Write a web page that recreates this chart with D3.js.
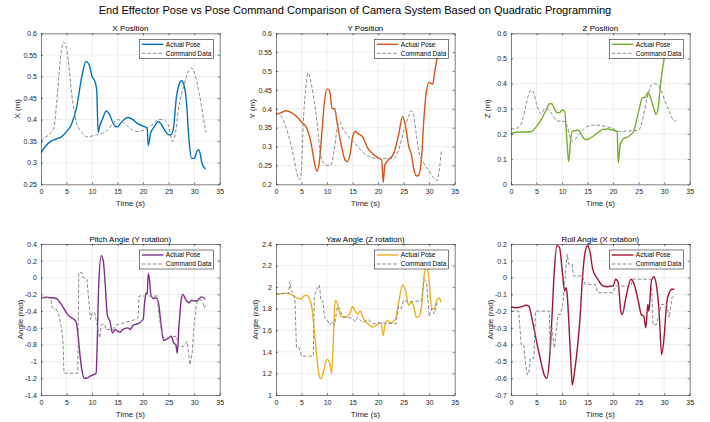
<!DOCTYPE html>
<html><head><meta charset="utf-8">
<script src="https://cdn.jsdelivr.net/npm/d3@7"></script>
<style>
html,body{margin:0;padding:0;background:#fff;}
svg{display:block;font-family:"Liberation Sans",Arial,Helvetica,sans-serif;}
</style></head>
<body>
<script>
// ---------- DATA ----------
const xTicks = [0,5,10,15,20,25,30,35];
const mainTitle = "End Effector Pose vs Pose Command Comparison of Camera System Based on Quadratic Programming";
const legendLabels = ["Actual Pose","Command Data"];

const xPosActual = [[0,0.323],[1,0.34],[2,0.35],[3,0.355],[4,0.36],[5,0.372],[6,0.39],[7,0.43],[8,0.5],[8.8,0.535],[9.5,0.525],[10,0.5],[10.5,0.49],[10.9,0.47],[11.2,0.37],[11.5,0.385],[12,0.4],[12.8,0.42],[13.5,0.41],[14,0.395],[14.5,0.385],[15,0.383],[15.5,0.39],[16,0.397],[17,0.405],[18,0.4],[19,0.39],[20,0.385],[20.8,0.38],[21,0.34],[21.5,0.37],[22,0.38],[23,0.395],[23.5,0.39],[24,0.38],[25,0.365],[25.5,0.365],[26,0.385],[26.5,0.45],[27,0.48],[27.5,0.49],[28,0.48],[28.5,0.44],[29,0.35],[29.5,0.31],[30,0.31],[30.5,0.325],[30.8,0.33],[31.2,0.32],[31.5,0.3],[32.2,0.285]];
const xPosCommand = [[0,0.35],[1,0.36],[2,0.37],[2.5,0.38],[3,0.43],[3.5,0.5],[4,0.56],[4.4,0.58],[5,0.565],[5.5,0.52],[6,0.46],[6.5,0.42],[7,0.39],[8,0.37],[9,0.36],[10,0.362],[11,0.365],[12,0.368],[13,0.375],[14,0.39],[15,0.4],[16,0.395],[17,0.385],[18,0.375],[19,0.372],[20,0.375],[21,0.382],[22,0.39],[23,0.4],[24,0.4],[25,0.385],[25.7,0.35],[26.2,0.36],[27,0.43],[28,0.48],[29,0.515],[29.5,0.52],[30,0.51],[31,0.46],[32,0.39],[32.3,0.37]];

const yPosActual = [[0,0.385],[1,0.39],[2,0.395],[3,0.39],[4,0.38],[5,0.365],[6,0.35],[7,0.3],[7.5,0.26],[8,0.235],[8.5,0.26],[9,0.34],[9.5,0.42],[10,0.452],[10.5,0.448],[11,0.4],[11.5,0.4],[12,0.36],[13,0.29],[13.5,0.265],[14,0.26],[14.5,0.28],[15,0.325],[15.5,0.34],[16,0.335],[17,0.325],[18,0.295],[19,0.28],[20,0.27],[20.7,0.265],[21,0.205],[21.3,0.25],[22,0.265],[23,0.28],[24,0.33],[24.8,0.38],[25.3,0.36],[26,0.3],[26.5,0.28],[27,0.24],[27.5,0.222],[28,0.225],[28.5,0.27],[29,0.38],[29.5,0.45],[30,0.47],[30.7,0.465],[31,0.49],[31.5,0.53],[32,0.56],[32.3,0.575]];
const yPosCommand = [[0,0.39],[1,0.38],[2,0.35],[3,0.3],[3.5,0.27],[4,0.235],[4.6,0.212],[5,0.24],[5.3,0.35],[5.8,0.45],[6.3,0.495],[7,0.46],[7.5,0.42],[8,0.37],[8.5,0.3],[9,0.265],[10,0.25],[10.7,0.25],[11.5,0.3],[12,0.35],[12.5,0.365],[13,0.35],[14,0.33],[15,0.315],[16,0.3],[17,0.285],[18,0.275],[19,0.27],[20,0.268],[21,0.268],[22,0.268],[23,0.268],[24,0.29],[25,0.34],[26,0.38],[26.5,0.395],[27,0.38],[27.5,0.33],[28,0.285],[29,0.255],[30,0.235],[31,0.215],[31.6,0.21],[32,0.24],[32.4,0.29]];

const zPosActual = [[0,0.2],[1,0.207],[2,0.208],[3,0.208],[4,0.21],[5,0.23],[6,0.26],[7,0.3],[7.5,0.32],[8,0.32],[8.5,0.3],[9,0.285],[9.5,0.285],[10,0.295],[10.5,0.29],[11,0.16],[11.3,0.09],[11.7,0.18],[12,0.21],[13,0.215],[13.5,0.21],[14,0.19],[14.5,0.178],[15,0.178],[16,0.19],[17,0.205],[18,0.218],[19,0.22],[20,0.215],[20.8,0.21],[21,0.085],[21.4,0.16],[22,0.18],[23,0.19],[24,0.21],[25,0.29],[25.8,0.345],[26.3,0.345],[26.8,0.365],[27.3,0.345],[28,0.3],[28.4,0.278],[28.8,0.3],[29.3,0.4],[30,0.5],[30.5,0.56]];
const zPosCommand = [[0,0.22],[1,0.222],[2,0.24],[3,0.32],[3.5,0.36],[4,0.375],[4.5,0.36],[5,0.32],[5.5,0.29],[6,0.28],[6.5,0.3],[7,0.3],[8,0.28],[9,0.252],[10,0.25],[10.5,0.25],[11,0.23],[11.5,0.19],[12,0.17],[13,0.19],[14,0.215],[15,0.23],[16,0.235],[17,0.235],[18,0.232],[19,0.228],[20,0.222],[21,0.21],[22,0.21],[23,0.212],[24,0.213],[25,0.215],[25.8,0.26],[26.5,0.33],[27,0.37],[27.5,0.395],[28,0.4],[28.5,0.398],[29,0.39],[29.5,0.37],[30,0.34],[31,0.29],[32,0.25],[32.4,0.255]];

const pitchActual = [[0,-0.24],[1,-0.235],[2,-0.24],[3,-0.25],[3.5,-0.28],[4,-0.32],[5,-0.42],[5.5,-0.46],[6,-0.48],[6.8,-0.52],[7.2,-0.65],[7.6,-0.9],[8,-1.1],[8.5,-1.2],[9,-1.2],[9.5,-1.18],[10,-1.165],[10.8,-1.14],[11,-0.8],[11.3,-0.1],[11.8,0.26],[12.2,0.2],[12.6,-0.1],[13,-0.45],[13.5,-0.52],[14,-0.66],[14.5,-0.62],[15,-0.64],[15.5,-0.65],[16,-0.62],[17,-0.6],[17.5,-0.62],[18,-0.57],[19,-0.55],[20,-0.5],[20.3,-0.3],[20.6,-0.18],[20.8,-0.2],[21,0.05],[21.3,-0.05],[21.5,-0.2],[22,-0.25],[22.5,-0.24],[23,-0.3],[23.5,-0.55],[24,-0.75],[24.5,-0.74],[25,-0.72],[25.5,-0.7],[26,-0.78],[26.4,-0.8],[26.7,-0.9],[27,-0.6],[27.5,-0.25],[27.8,-0.2],[28.3,-0.26],[29,-0.3],[29.5,-0.27],[30,-0.28],[30.5,-0.28],[31,-0.25],[31.5,-0.23],[32.2,-0.26]];
const pitchCommand = [[0,-0.24],[1.5,-0.24],[2,-0.28],[2.2,-0.36],[3,-0.38],[3.5,-0.45],[4,-0.6],[4.3,-0.75],[4.5,-1.14],[7.2,-1.14],[7.4,0.06],[8,0.06],[8.2,0],[9,-0.02],[9.4,-0.3],[9.7,-0.5],[10,-0.42],[10.5,-0.42],[11.5,-0.72],[11.8,-0.56],[12.5,-0.56],[12.7,-0.62],[14,-0.62],[14.5,-0.58],[15,-0.56],[18.5,-0.5],[19,-0.48],[19.2,-0.22],[22.8,-0.22],[23,-0.4],[23.5,-0.6],[24,-0.72],[26.5,-0.7],[27,-0.82],[28,-0.82],[28.6,-0.76],[29,-0.95],[29.2,-1.04],[29.6,-0.9],[30,-0.55],[30.5,-0.3],[31,-0.26],[31.5,-0.27],[32,-0.36],[32.3,-0.33]];

const yawActual = [[0,1.93],[1,1.94],[2,1.945],[3,1.93],[4,1.9],[5,1.89],[5.5,1.92],[6,1.925],[6.5,1.9],[7,1.82],[7.5,1.6],[8,1.35],[8.5,1.17],[8.8,1.15],[9.3,1.22],[10,1.33],[10.5,1.3],[10.9,1.2],[11.3,1.6],[11.6,1.88],[12,1.85],[12.5,1.75],[13,1.72],[13.5,1.72],[14,1.73],[14.5,1.76],[15,1.82],[15.5,1.78],[16,1.75],[16.5,1.78],[17,1.72],[18,1.66],[19,1.63],[20,1.66],[20.6,1.67],[21,1.55],[21.3,1.64],[21.8,1.69],[22.5,1.67],[23,1.68],[23.5,1.72],[24,1.85],[24.8,2.02],[25.3,1.98],[26,1.83],[26.5,1.86],[27,1.82],[27.5,1.72],[28,1.73],[28.5,1.82],[29,2.1],[29.5,2.2],[30,2.05],[30.5,1.8],[31,1.8],[31.5,1.88],[32,1.9],[32.3,1.86]];
const yawCommand = [[0,1.94],[2.5,1.94],[2.7,2.05],[3,1.97],[3.3,1.95],[3.7,1.9],[4,1.44],[4.5,1.44],[5,1.36],[7.3,1.36],[7.5,1.92],[8,1.98],[8.5,2.02],[8.8,1.87],[9.2,1.87],[9.5,1.72],[10,1.7],[10.5,1.65],[11,1.68],[11.5,1.65],[12,1.82],[12.5,1.8],[13,1.73],[14,1.72],[15,1.71],[15.5,1.68],[16,1.72],[17,1.67],[18,1.7],[19,1.66],[20,1.67],[23.5,1.66],[24,1.82],[24.5,1.8],[25,1.88],[26,1.86],[27,1.87],[28.5,1.87],[29,2.07],[29.5,2.05],[30,1.73],[30.5,1.8],[31,1.75],[31.5,1.85],[32,1.85]];

const rollActual = [[0,-0.175],[1,-0.18],[2,-0.175],[3,-0.165],[3.5,-0.17],[4,-0.23],[5,-0.38],[6,-0.52],[6.5,-0.58],[7,-0.6],[7.5,-0.5],[8,-0.25],[8.5,0.05],[9,0.19],[9.5,0.18],[10,0.05],[10.5,-0.08],[10.8,-0.06],[11,-0.1],[11.3,-0.25],[11.8,-0.55],[12,-0.64],[12.5,-0.55],[13,-0.42],[13.5,-0.25],[14,0],[14.5,0.15],[15,0.19],[15.5,0.15],[16,0.05],[17,-0.01],[18,-0.05],[19,-0.055],[19.5,-0.05],[20,-0.05],[20.5,-0.01],[21,-0.03],[21.5,-0.2],[21.8,-0.22],[22.5,-0.12],[23.5,-0.01],[24,-0.03],[25,-0.15],[25.5,-0.22],[26,-0.23],[26.4,-0.3],[26.8,-0.16],[27,-0.2],[27.5,-0.02],[28,0.005],[28.5,-0.05],[29,-0.2],[29.5,-0.46],[30,-0.35],[30.5,-0.15],[31,-0.09],[31.5,-0.07],[32,-0.07]];
const rollCommand = [[0,-0.2],[1.5,-0.2],[2,-0.4],[2.5,-0.4],[2.8,-0.5],[3.2,-0.58],[3.5,-0.57],[3.8,-0.48],[4.5,-0.48],[4.8,-0.2],[7.5,-0.2],[7.7,-0.46],[8,-0.3],[8.5,-0.42],[9.2,-0.22],[9.7,-0.22],[10.2,-0.15],[10.6,0],[11,0.14],[11.3,0.08],[12,0.08],[12.2,0.01],[14,0.01],[14.5,-0.04],[16.5,-0.04],[17,-0.09],[20,-0.09],[20.5,-0.05],[23.5,-0.05],[23.8,-0.01],[27.5,-0.01],[27.8,-0.28],[28.5,-0.28],[28.8,-0.24],[29.5,-0.16],[30.5,-0.16],[31,-0.24],[31.5,-0.12],[32,-0.11]];

const panelTitles = ["X Position","Y Position","Z Position","Pitch Angle (Y rotation)","Yaw Angle (Z rotation)","Roll Angle (X rotation)"];
const panelYLabels = ["X (m)","Y (m)","Z (m)","Angle (rad)","Angle (rad)","Angle (rad)"];
const panelYTicks = [
  [0.25,0.3,0.35,0.4,0.45,0.5,0.55,0.6],
  [0.2,0.25,0.3,0.35,0.4,0.45,0.5,0.55,0.6],
  [0,0.1,0.2,0.3,0.4,0.5,0.6],
  [-1.4,-1.2,-1,-0.8,-0.6,-0.4,-0.2,0,0.2,0.4],
  [1,1.2,1.4,1.6,1.8,2,2.2,2.4],
  [-0.7,-0.6,-0.5,-0.4,-0.3,-0.2,-0.1,0,0.1,0.2]
];
const panelColors = ["#0072BD","#D95319","#77AC30","#7E2F8E","#EDB120","#A2142F"];

// ---------- LAYOUT ----------
const W = 710, H = 422;
const colLeft = [41, 276, 511];
const rowTop = [33.3, 244];
const pw = 178.7, ph = 151;
const actualSeries = [xPosActual,yPosActual,zPosActual,pitchActual,yawActual,rollActual];
const commandSeries = [xPosCommand,yPosCommand,zPosCommand,pitchCommand,yawCommand,rollCommand];
const axisColor = "#262626";

const svg = d3.select("body").append("svg").attr("width",W).attr("height",H);
svg.append("text").attr("x",355).attr("y",14).attr("text-anchor","middle")
  .attr("font-size",11.05).attr("fill","#000").text(mainTitle);

const fmt = v => String(+v.toFixed(2));

for (let i=0;i<6;i++){
  const col = i%3, row = Math.floor(i/3);
  const x0 = colLeft[col], y0 = rowTop[row];
  const yt = panelYTicks[i];
  const xs = d3.scaleLinear().domain([0,35]).range([0,pw]);
  const ys = d3.scaleLinear().domain([yt[0], yt[yt.length-1]]).range([ph,0]);
  const g = svg.append("g").attr("transform",`translate(${x0},${y0})`);
  const cid = "clip"+i;
  g.append("clipPath").attr("id",cid).append("rect").attr("width",pw).attr("height",ph);

  // grid
  g.append("g").selectAll("line").data(xTicks.slice(1,-1)).join("line")
    .attr("x1",d=>xs(d)).attr("x2",d=>xs(d)).attr("y1",0).attr("y2",ph)
    .attr("stroke","#e2e2e2").attr("stroke-width",0.6);
  g.append("g").selectAll("line").data(yt.slice(1,-1)).join("line")
    .attr("y1",d=>ys(d)).attr("y2",d=>ys(d)).attr("x1",0).attr("x2",pw)
    .attr("stroke","#e2e2e2").attr("stroke-width",0.6);

  // lines
  const line = d3.line().x(d=>xs(d[0])).y(d=>ys(d[1])).curve(d3.curveMonotoneX);
  const lineCmd = d3.line().x(d=>xs(d[0])).y(d=>ys(d[1])).curve(i<3 ? d3.curveMonotoneX : d3.curveLinear);
  const lg = g.append("g").attr("clip-path",`url(#${cid})`);
  lg.append("path").attr("d",line(actualSeries[i])).attr("fill","none")
    .attr("stroke",panelColors[i]).attr("stroke-width",1.4).attr("stroke-linejoin","round");
  lg.append("path").attr("d",lineCmd(commandSeries[i])).attr("fill","none")
    .attr("stroke","#8a8a8a").attr("stroke-width",1).attr("stroke-dasharray","3.5,2");

  // axes (MATLAB style inner ticks, box)
  const tl = 2;
  const ax = g.append("g").attr("transform",`translate(0,${ph})`)
    .call(d3.axisBottom(xs).tickValues(xTicks).tickSizeInner(-tl).tickSizeOuter(0).tickPadding(4).tickFormat(d3.format("d")));
  const ay = g.append("g")
    .call(d3.axisLeft(ys).tickValues(yt).tickSizeInner(-tl).tickSizeOuter(0).tickPadding(4).tickFormat(fmt));
  const axT = g.append("g").call(d3.axisTop(xs).tickValues(xTicks).tickSizeInner(-tl).tickSizeOuter(0).tickFormat(""));
  const ayR = g.append("g").attr("transform",`translate(${pw},0)`).call(d3.axisRight(ys).tickValues(yt).tickSizeInner(-tl).tickSizeOuter(0).tickFormat(""));
  [ax,ay,axT,ayR].forEach(a=>{
    a.select(".domain").attr("stroke",axisColor).attr("stroke-width",0.6);
    a.selectAll(".tick line").attr("stroke",axisColor).attr("stroke-width",0.6);
    a.selectAll("text").attr("fill",axisColor).attr("font-size",7).attr("font-family","Liberation Sans, Arial, sans-serif");
  });
  ax.selectAll("text").attr("dy","0.71em").attr("y",5);

  // title
  g.append("text").attr("x",pw/2).attr("y",-2.5).attr("text-anchor","middle")
    .attr("font-size",8).attr("fill","#000").text(panelTitles[i]);
  // x label
  g.append("text").attr("x",pw/2).attr("y",ph+21.5).attr("text-anchor","middle")
    .attr("font-size",8).attr("fill",axisColor).text("Time (s)");
  // y label
  const ylx = row===0 ? -21.5 : -18.5;
  g.append("text").attr("transform",`translate(${ylx},${ph/2}) rotate(-90)`)
    .attr("text-anchor","middle").attr("font-size",8).attr("fill",axisColor).text(panelYLabels[i]);

  // legend
  const lw = 74, lh = 19, lx = pw - 6.4 - lw, ly = 6;
  const leg = g.append("g").attr("transform",`translate(${lx},${ly})`);
  leg.append("rect").attr("width",lw).attr("height",lh).attr("fill","#fff")
    .attr("stroke",axisColor).attr("stroke-width",0.6);
  const rowsY = [5, 14];
  leg.append("line").attr("x1",2.5).attr("x2",24).attr("y1",rowsY[0]).attr("y2",rowsY[0])
    .attr("stroke",panelColors[i]).attr("stroke-width",1.4);
  leg.append("line").attr("x1",2.5).attr("x2",24).attr("y1",rowsY[1]).attr("y2",rowsY[1])
    .attr("stroke","#8a8a8a").attr("stroke-width",1).attr("stroke-dasharray","3.5,2");
  legendLabels.forEach((t,k)=>{
    leg.append("text").attr("x",26.5).attr("y",rowsY[k]).attr("dy","0.35em")
      .attr("font-size",6.5).attr("fill","#000").text(t);
  });
}
</script>
</body></html>
